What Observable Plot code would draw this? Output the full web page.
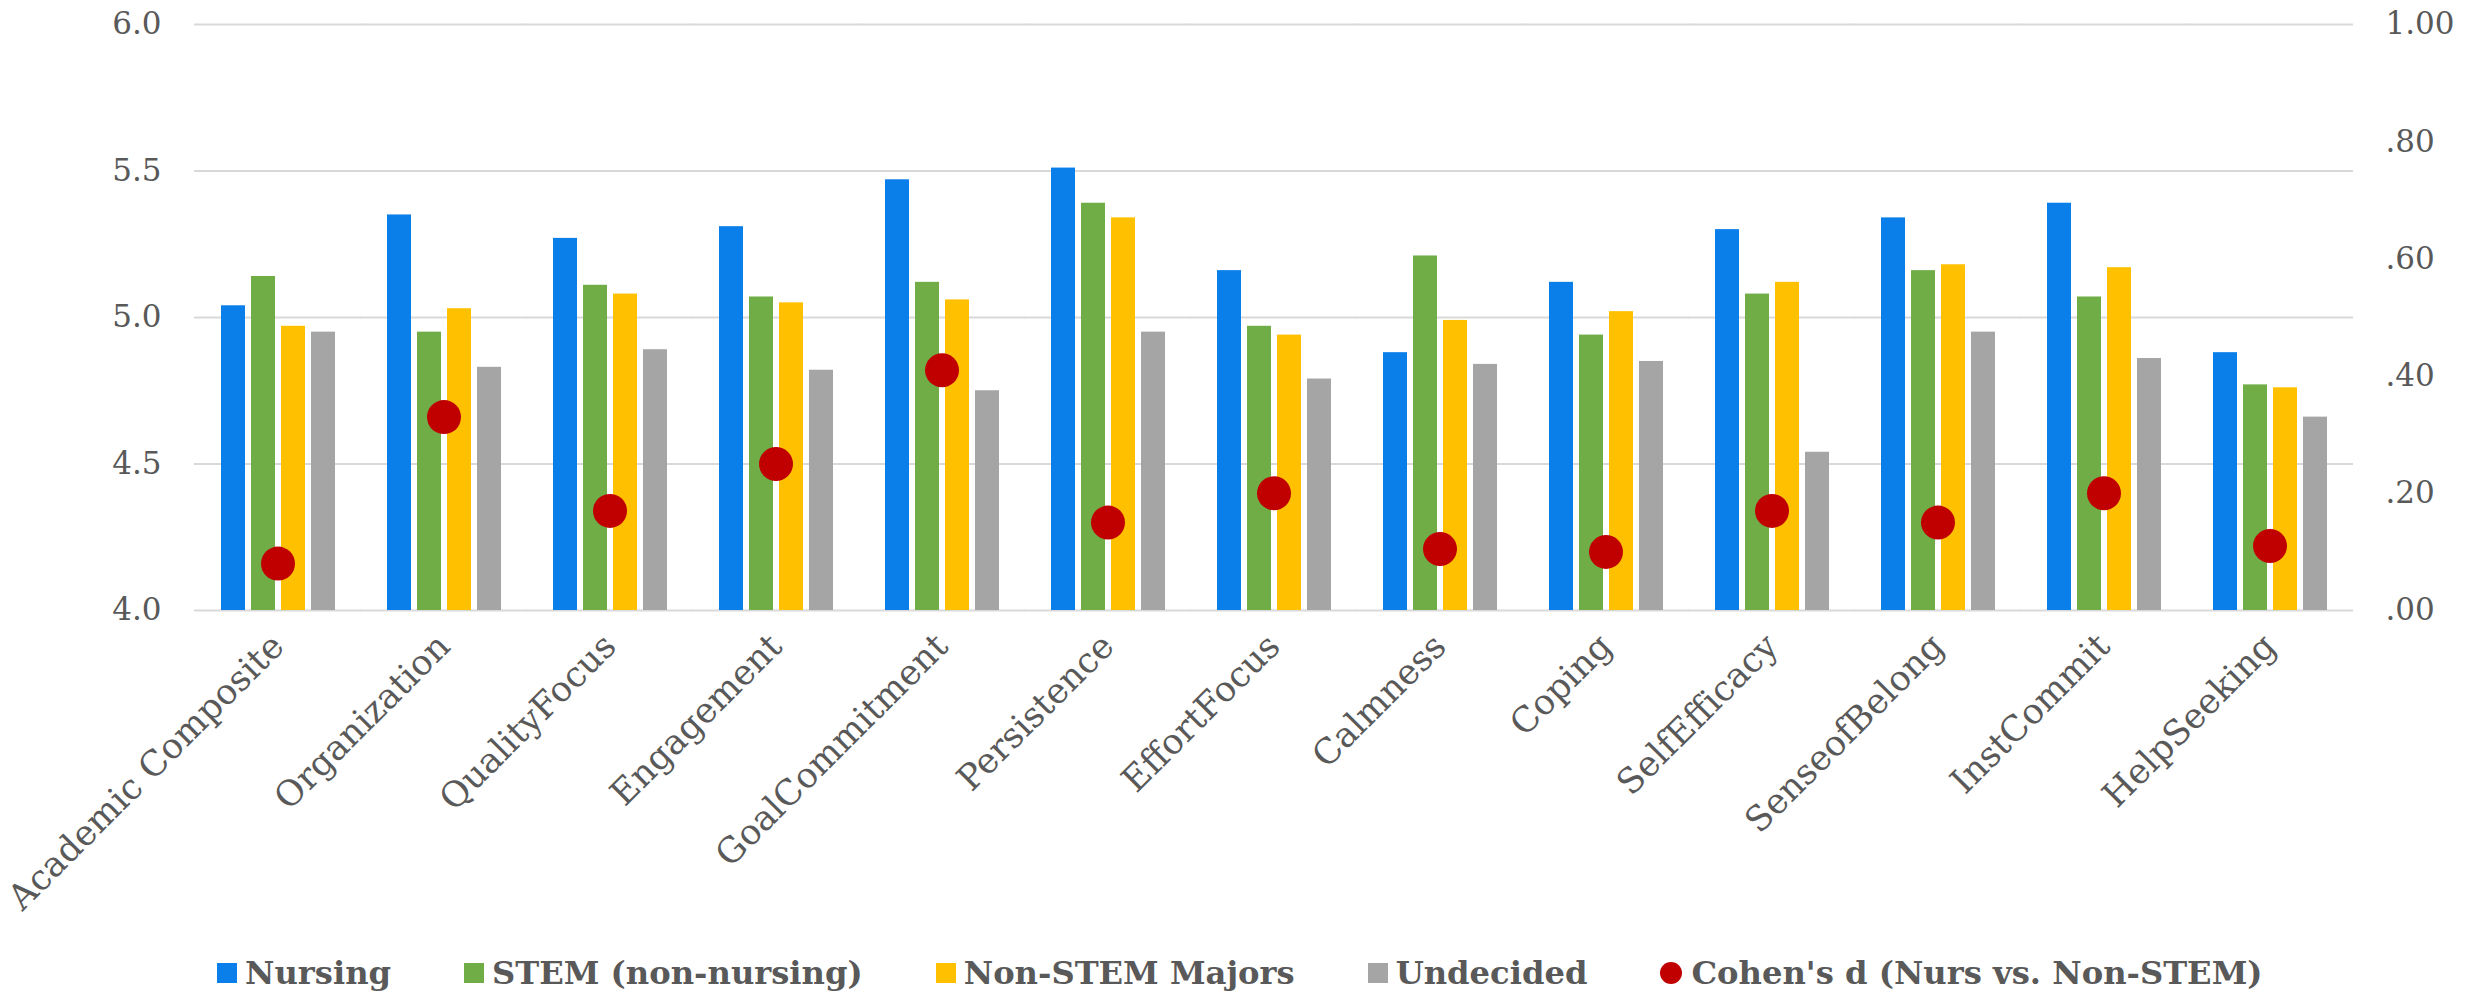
<!DOCTYPE html>
<html>
<head>
<meta charset="utf-8">
<script src="https://cdn.jsdelivr.net/npm/d3@7"></script>
<script src="https://cdn.jsdelivr.net/npm/@observablehq/plot@0.6"></script>
<style>
  body { margin: 0; background: #fff; overflow: hidden; }
  #legend {
    box-sizing: border-box; display: flex; align-items: center; height: 53px;
    padding-top: 13px; padding-left: 217px;
    font-family: "DejaVu Serif", serif; font-weight: bold; font-size: 32.2px; color: #595959;
  }
  .item { display: flex; align-items: center; margin-right: 73px; white-space: nowrap; }
  .sw { width: 20px; height: 20px; margin-right: 8px; }
  .circ { width: 22px; height: 22px; border-radius: 50%; margin-right: 9px; }
</style>
</head>
<body>
<div id="chart"></div>
<div id="legend"></div>
<script>
// Scales on the left (mean score) and right (effect size) axes
const categories = [
  "Academic Composite", "Organization", "QualityFocus", "Engagement", "GoalCommitment",
  "Persistence", "EffortFocus", "Calmness", "Coping", "SelfEfficacy",
  "SenseofBelong", "InstCommit", "HelpSeeking"
];
const seriesNames = ["Nursing", "STEM (non-nursing)", "Non-STEM Majors", "Undecided"];
const seriesColors = ["#0A7FEA", "#70AD47", "#FFC000", "#A5A5A5"];
const dotLabel = "Cohen's d (Nurs vs. Non-STEM)";
const dotColor = "#C00000";

const nursing   = [5.04, 5.35, 5.27, 5.31, 5.47, 5.51, 5.16, 4.88, 5.12, 5.30, 5.34, 5.39, 4.88];
const stem      = [5.14, 4.95, 5.11, 5.07, 5.12, 5.39, 4.97, 5.21, 4.94, 5.08, 5.16, 5.07, 4.77];
const nonStem   = [4.97, 5.03, 5.08, 5.05, 5.06, 5.34, 4.94, 4.99, 5.02, 5.12, 5.18, 5.17, 4.76];
const undecided = [4.95, 4.83, 4.89, 4.82, 4.75, 4.95, 4.79, 4.84, 4.85, 4.54, 4.95, 4.86, 4.66];
const cohensD   = [0.08, 0.33, 0.17, 0.25, 0.41, 0.15, 0.20, 0.105, 0.10, 0.17, 0.15, 0.20, 0.11];

const leftTicks  = [4.0, 4.5, 5.0, 5.5, 6.0];
const rightTicks = [0, 0.2, 0.4, 0.6, 0.8, 1.0];

// Effect sizes 0..1 share the vertical extent of the 4..6 score axis
const scoreMin = 4, scoreMax = 6;
const dToScore = d => scoreMin + (scoreMax - scoreMin) * d;
const scoreToD = v => (v - scoreMin) / (scoreMax - scoreMin);

const seriesValues = [nursing, stem, nonStem, undecided];
const rows = categories.flatMap((c, i) =>
  seriesNames.map((s, j) => ({category: c, series: s, value: seriesValues[j][i]}))
);
const dots = categories.map((c, i) => ({category: c, d: cohensD[i]}));

const fmtLeft = d3.format(".1f");
const fmtRight = v => {
  const s = d3.format(".2f")(scoreToD(v));
  return s.startsWith("0") ? s.slice(1) : s;
};

// Grid rules are drawn in every group and stretched across the gaps between groups
const gridOverhang = -26;

const chart = Plot.plot({
  width: 2479,
  height: 940,
  marginTop: 24,
  marginBottom: 330,
  marginLeft: 193,
  marginRight: 126,
  style: {fontFamily: "'DejaVu Serif', serif", color: "#595959", background: "#fff"},
  fx: {domain: categories, paddingInner: 0.31, paddingOuter: 0.155, label: null},
  x: {domain: seriesNames, paddingInner: 0.2, paddingOuter: 0, axis: null},
  y: {domain: [scoreMin, scoreMax], label: null},
  color: {domain: seriesNames, range: seriesColors},
  marks: [
    Plot.ruleY(leftTicks, {stroke: "#D9D9D9", strokeWidth: 2, insetLeft: gridOverhang, insetRight: gridOverhang}),
    Plot.barY(rows, {fx: "category", x: "series", y1: scoreMin, y2: "value", fill: "series"}),
    Plot.dot(dots, {fx: "category", y: d => dToScore(d.d), r: 17, fill: dotColor}),
    Plot.axisY(leftTicks, {
      anchor: "left", tickSize: 0, tickPadding: 59, tickFormat: fmtLeft,
      textAnchor: "end", fontSize: 31, label: null
    }),
    Plot.axisY(rightTicks.map(dToScore), {
      anchor: "right", tickSize: 0, tickPadding: 58, tickFormat: fmtRight,
      textAnchor: "start", fontSize: 31, label: null
    }),
    Plot.axisFx({
      anchor: "bottom", tickSize: 0, tickPadding: 30, tickRotate: -45,
      textAnchor: "end", fontSize: 35, label: null
    })
  ]
});
document.getElementById("chart").appendChild(chart);

// Legend below the chart
const legend = d3.select("#legend");
seriesNames.forEach((name, i) => {
  const item = legend.append("div").attr("class", "item");
  item.append("div").attr("class", "sw").style("background", seriesColors[i]);
  item.append("span").text(name);
});
const dItem = legend.append("div").attr("class", "item");
dItem.append("div").attr("class", "circ").style("background", dotColor);
dItem.append("span").text(dotLabel);
</script>
</body>
</html>
